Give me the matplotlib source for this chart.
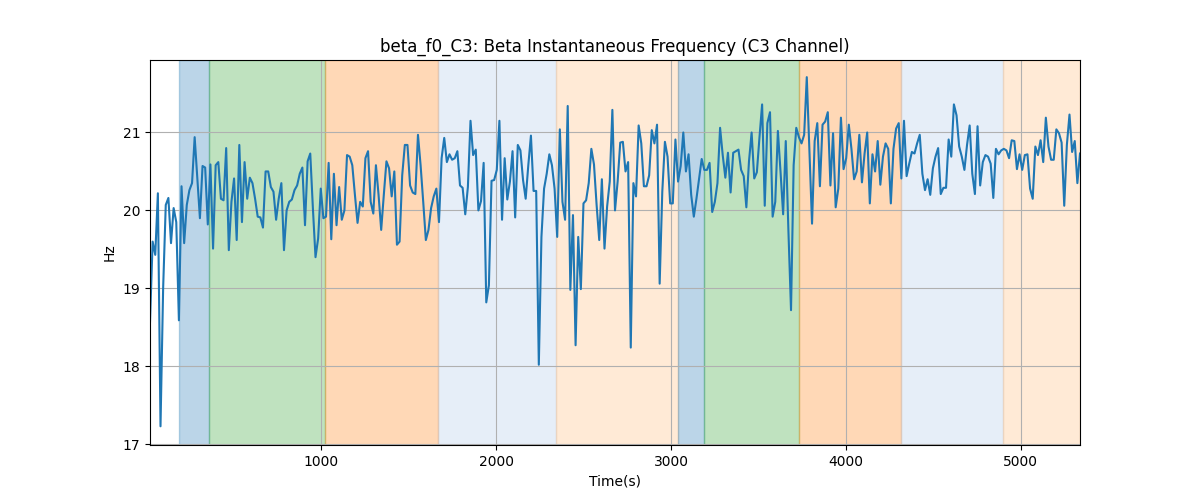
import matplotlib
matplotlib.use("Agg")
import matplotlib.pyplot as plt
import numpy as np

# instantaneous beta frequency (Hz)
hz = [
    18.57, 19.6, 19.43, 20.22, 17.23, 19.0, 20.07, 20.16, 19.58, 20.03, 19.85, 18.59, 20.31,
    19.58, 20.07, 20.26, 20.35, 20.94, 20.41, 19.9, 20.57, 20.55, 19.82, 20.59, 19.51, 20.58,
    20.62, 20.15, 20.13, 20.8, 19.49, 20.11, 20.41, 19.62, 20.84, 19.85, 20.62, 20.15, 20.42,
    20.35, 20.15, 19.92, 19.91, 19.78, 20.5, 20.5, 20.3, 20.24, 19.88, 20.15, 20.35, 19.49,
    20.0, 20.11, 20.14, 20.26, 20.32, 20.47, 20.55, 19.81, 20.63, 20.73, 20.03, 19.4, 19.64,
    20.28, 19.9, 19.92, 20.61, 19.63, 20.47, 19.81, 20.3, 19.88, 20.0, 20.71, 20.69, 20.58,
    20.2, 19.84, 20.11, 20.05, 20.67, 20.76, 20.11, 19.96, 20.58, 20.2, 19.75, 20.2, 20.63,
    20.54, 20.18, 20.5, 19.56, 19.6, 20.45, 20.84, 20.84, 20.32, 20.23, 20.21, 20.97,
    20.58, 20.11, 19.62, 19.75, 20.03, 20.18, 20.28, 19.85, 20.67, 20.93, 20.62, 20.72, 20.65,
    20.67, 20.76, 20.32, 20.29, 19.95, 20.3, 21.15, 20.71, 20.78, 20.0, 20.12, 20.61, 18.82,
    19.04, 20.38, 20.39, 20.52, 21.15, 19.88, 20.67, 20.14, 20.37, 20.76, 19.91, 20.84, 20.77,
    20.39, 20.15, 20.58, 20.96, 20.25, 20.25, 18.02, 19.66, 20.28, 20.47, 20.72, 20.58,
    20.28, 19.66, 21.04, 20.11, 19.88, 21.34, 18.98, 19.94, 18.27, 19.66, 18.99, 20.09, 20.13,
    20.35, 20.79, 20.59, 20.07, 19.62, 20.4, 19.51, 20.05, 20.37, 21.29, 20.0, 20.37, 20.87,
    20.88, 20.5, 20.62, 18.24, 20.35, 20.18, 21.09, 20.86, 20.31, 20.31, 20.45, 21.03, 20.86,
    21.1, 19.06, 20.24, 20.88, 20.69, 20.09, 20.09, 20.91, 20.37, 20.57, 21.0, 20.5,
    20.72, 20.2, 19.92, 20.15, 20.4, 20.66, 20.52, 20.52, 20.61, 19.98, 20.11, 20.35, 21.06,
    20.71, 20.42, 20.74, 20.23, 20.74, 20.76, 20.78, 20.52, 20.44, 20.04, 20.63, 21.0, 20.41,
    20.49, 20.94, 21.36, 20.06, 21.12, 21.26, 19.92, 20.11, 21.02, 20.5, 19.95, 20.89, 19.75,
    18.72, 20.58, 21.06, 20.94, 20.86, 20.97, 21.71, 20.77, 19.83, 20.89, 21.12, 20.31, 21.1,
    21.14, 21.26, 20.32, 20.99, 20.04, 20.28, 21.19, 20.53, 20.67, 21.1, 20.79, 20.4, 20.5,
    20.97, 20.36, 20.73, 21.0, 20.09, 20.72, 20.5, 20.89, 20.33, 20.69, 20.86, 20.79, 20.09,
    20.79, 21.05, 21.12, 20.41, 21.15, 20.44, 20.6, 20.75, 20.73, 20.86, 20.97, 20.47, 20.26,
    20.4, 20.2, 20.54, 20.69, 20.8, 20.21, 20.29, 20.29, 20.91, 20.69, 21.36, 21.22, 20.82,
    20.69, 20.52, 20.84, 21.09, 20.47, 20.21, 21.08, 20.32, 20.62, 20.71, 20.69, 20.6, 20.16,
    20.79, 20.72, 20.77, 20.79, 20.77, 20.67, 20.9, 20.89, 20.53, 20.72, 20.52, 20.71, 20.72,
    20.28, 20.15, 20.82, 20.71, 20.9, 20.62, 21.19, 20.82, 20.65, 20.65, 21.04, 20.99, 20.87,
    20.06, 20.84, 21.23, 20.75, 20.89, 20.35, 20.73,
]
t_start, t_end = 20, 5340

# task phases shaded in the background
span_starts = [186, 360, 1022, 1667, 2341, 3042, 3191, 3735, 4316, 4899]
span_ends = [360, 1022, 1667, 2341, 3042, 3191, 3735, 4316, 4899, 5340]
span_colors = ["tab:blue", "tab:green", "tab:orange", "#aec7e8", "#ffbb78",
               "tab:blue", "tab:green", "tab:orange", "#aec7e8", "#ffbb78"]

t = np.linspace(t_start, t_end, len(hz))

fig, ax = plt.subplots(figsize=(12, 5), dpi=100)

for s, e, c in zip(span_starts, span_ends, span_colors):
    ax.axvspan(s, e, color=c, alpha=0.3)

ax.plot(t, hz, color="tab:blue", linewidth=1.5)

ax.set_xlim(t[0], t[-1])
ax.set_ylim(16.99, 21.93)
ax.set_title("beta_f0_C3: Beta Instantaneous Frequency (C3 Channel)")
ax.set_xlabel("Time(s)")
ax.set_ylabel("Hz")
ax.grid(True)

plt.savefig("out.png")
